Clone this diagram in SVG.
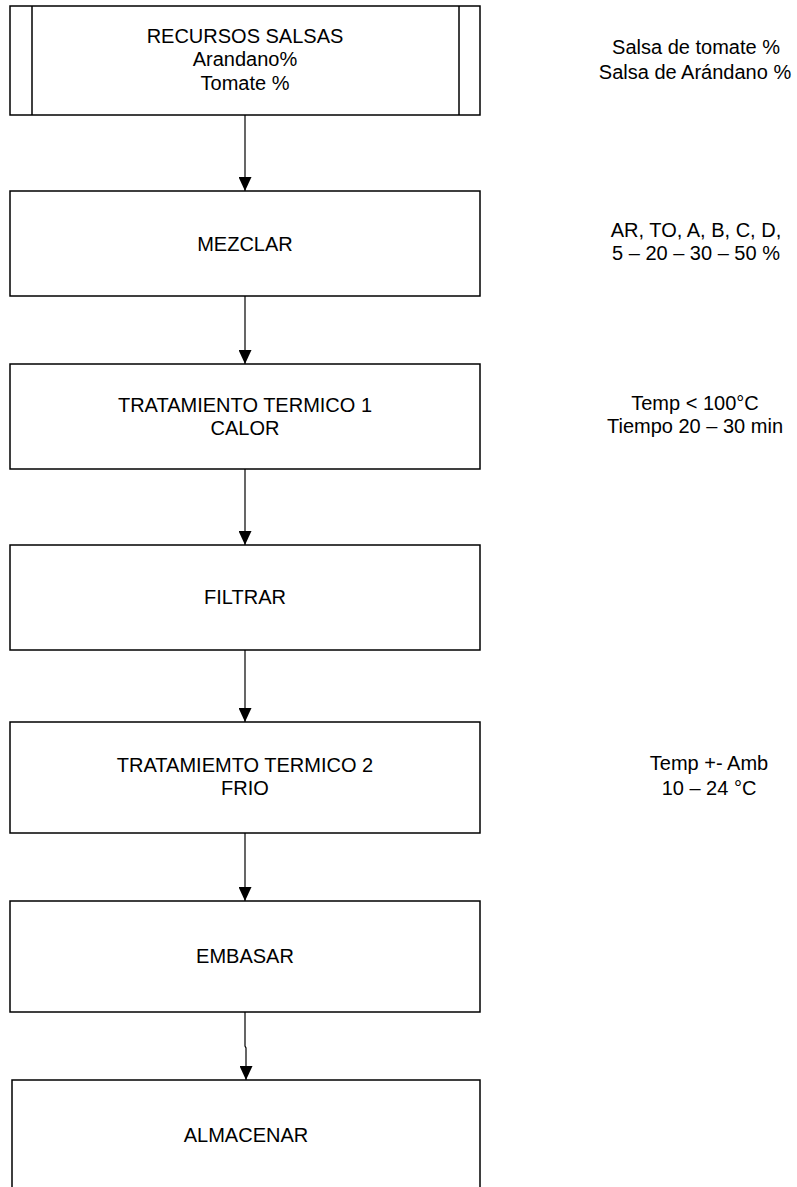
<svg xmlns="http://www.w3.org/2000/svg" width="797" height="1187" viewBox="0 0 797 1187">
<defs>
<style>
.box{fill:#fff;stroke:#000;stroke-width:1.5}
.t{font-family:"Liberation Sans",Arial,sans-serif;font-size:20px;fill:#000;text-anchor:middle}
.c{stroke:#000;stroke-width:1.2;fill:none;marker-end:url(#ah)}
</style>
<marker id="ah" markerWidth="14" markerHeight="13" refX="14" refY="6.5" orient="auto" markerUnits="userSpaceOnUse">
<path d="M0,0 L14,6.5 L0,13 Z" fill="#000"/>
</marker>
</defs>
<rect width="797" height="1187" fill="#fff"/>
<g id="connectors">
<line class="c" x1="245" y1="115" x2="245" y2="191"/>
<line class="c" x1="245" y1="296" x2="245" y2="364"/>
<line class="c" x1="245" y1="469" x2="245" y2="545"/>
<line class="c" x1="245" y1="646" x2="245" y2="722"/>
<line class="c" x1="245" y1="833" x2="245" y2="901"/>
<path class="c" d="M245,1012 L245,1046 L246,1048 L246,1080"/>
</g>
<g id="n1">
<rect class="box" x="10" y="6" width="470" height="109"/>
<line x1="32" y1="6" x2="32" y2="115" stroke="#000" stroke-width="1.5"/>
<line x1="459" y1="6" x2="459" y2="115" stroke="#000" stroke-width="1.5"/>
<text class="t" x="245" y="43">RECURSOS SALSAS</text>
<text class="t" x="245" y="66">Arandano%</text>
<text class="t" x="245" y="90">Tomate %</text>
</g>
<g id="n2">
<rect class="box" x="10" y="191" width="470" height="105"/>
<text class="t" x="245" y="251">MEZCLAR</text>
</g>
<g id="n3">
<rect class="box" x="10" y="364" width="470" height="105"/>
<text class="t" x="245" y="412">TRATAMIENTO TERMICO 1</text>
<text class="t" x="245" y="435">CALOR</text>
</g>
<g id="n4">
<rect class="box" x="10" y="545" width="470" height="105"/>
<text class="t" x="245" y="604">FILTRAR</text>
</g>
<g id="n5">
<rect class="box" x="10" y="722" width="470" height="111"/>
<text class="t" x="245" y="772">TRATAMIEMTO TERMICO 2</text>
<text class="t" x="245" y="795">FRIO</text>
</g>
<g id="n6">
<rect class="box" x="10" y="901" width="470" height="111"/>
<text class="t" x="245" y="963">EMBASAR</text>
</g>
<g id="n7">
<rect class="box" x="12" y="1080" width="468" height="120"/>
<text class="t" x="246" y="1142">ALMACENAR</text>
</g>
<g id="notes">
<text class="t" x="696" y="54">Salsa de tomate %</text>
<text class="t" x="695" y="79">Salsa de Arándano %</text>
<text class="t" x="696" y="237">AR, TO, A, B, C, D,</text>
<text class="t" x="696" y="260">5 – 20 – 30 – 50 %</text>
<text class="t" x="695" y="410">Temp &lt; 100°C</text>
<text class="t" x="695" y="433">Tiempo 20 – 30 min</text>
<text class="t" x="709" y="770">Temp +- Amb</text>
<text class="t" x="709" y="795">10 – 24 °C</text>
</g>
</svg>
